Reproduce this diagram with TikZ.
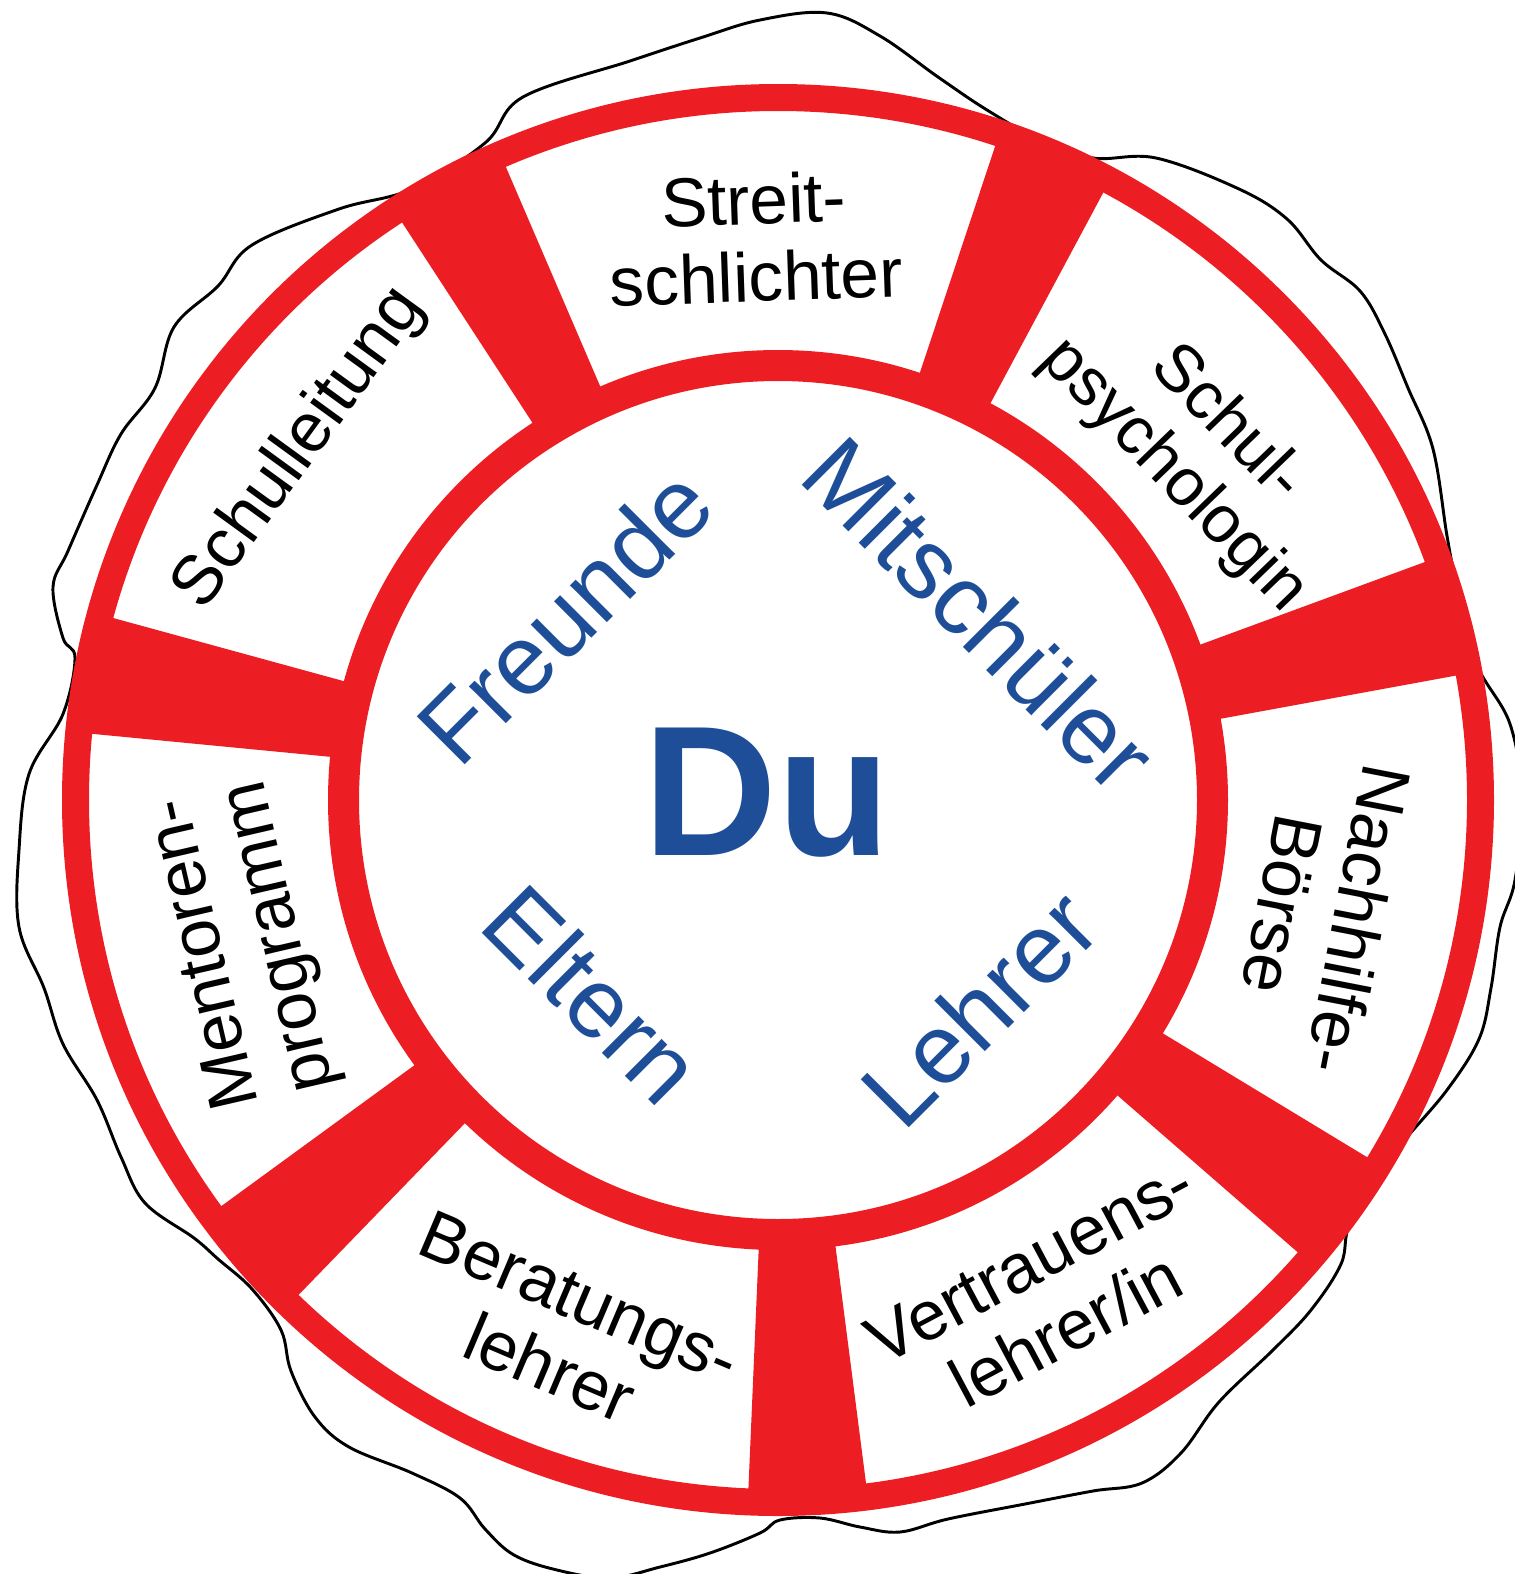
\documentclass[tikz,border=0pt]{standalone}
\usepackage{fontspec}
\setmainfont{Liberation Sans}
\definecolor{ringred}{RGB}{236,30,36}
\definecolor{dublue}{RGB}{31,78,152}

\tikzset{every picture/.style={line width=0.75pt}}

\begin{document}
\begin{tikzpicture}[x=0.75pt,y=0.75pt,yscale=-1,xscale=1,
    segtext/.style={align=center,inner sep=0pt,font=\fontsize{52}{58}\selectfont},
    bluetext/.style={text=dublue,inner sep=0pt,font=\fontsize{74}{80}\selectfont}]
\useasboundingbox (0,0) rectangle (1514,1574);

%Wavy outline
\draw [line width=2.2pt, line join=round] plot [smooth cycle, tension=0.6] coordinates {
  (700,38) (760,20) (827,13) (880,36) (938,77) (987,110) (1040,140) (1093,158)
  (1156,158) (1239,189) (1287,219) (1321,260) (1360,291) (1384,332) (1408,388)
  (1433,449) (1447,536) (1457,587) (1476,663) (1510,724) (1522,800) (1515,880)
  (1500,927) (1491,988) (1479,1039) (1447,1090) (1404,1141) (1384,1172) (1350,1223)
  (1341,1264) (1311,1310) (1273,1350) (1219,1402) (1181,1453) (1142,1483) (1093,1491)
  (1025,1504) (948,1519) (900,1532) (860,1527) (820,1518) (780,1520) (760,1533)
  (710,1553) (660,1567) (610,1578) (557,1570) (514,1555) (485,1529) (460,1498)
  (412,1473) (349,1447) (315,1417) (291,1371) (281,1330) (252,1289) (218,1259)
  (194,1238) (145,1203) (121,1157) (97,1100) (63,1044) (44,988) (19,927) (19,850)
  (29,774) (63,714) (75,658) (63,638) (53,587) (68,551) (97,485) (121,434)
  (155,388) (174,327) (218,286) (252,245) (339,209) (412,189) (485,143) (523,97)
  (630,61)};

%Spokes
\fill [ringred] (1202.90,722.02) -- (1468.47,673.27) -- (1436.82,557.60) -- (1183.43,650.83) -- cycle;
\fill [ringred] (981.94,419.17) -- (1109.41,181.15) -- (999.24,133.77) -- (914.15,390.01) -- cycle;
\fill [ringred] (607.40,403.11) -- (500.77,155.06) -- (395.04,211.65) -- (542.34,437.94) -- cycle;
\fill [ringred] (361.33,685.93) -- (100.91,614.64) -- (79.24,732.59) -- (348.00,758.52) -- cycle;
\fill [ringred] (428.99,1054.59) -- (210.86,1213.72) -- (289.56,1304.21) -- (477.42,1110.28) -- cycle;
\fill [ringred] (759.46,1231.60) -- (747.87,1501.35) -- (867.69,1496.24) -- (833.20,1228.46) -- cycle;
\fill [ringred] (1103.89,1083.59) -- (1307.57,1260.83) -- (1378.27,1163.97) -- (1147.40,1023.98) -- cycle;

%Shape: Circle (outer ring)
\draw [ringred, line width=20.25pt] (778,800) circle (702.5);
%Shape: Circle (inner ring)
\draw [ringred, line width=23.25pt] (778,800) circle (434.5);

% Text Node
\node [segtext, rotate=2] (streit) at (755,238) {Streit-\\schlichter};
% Text Node
\node [segtext, rotate=54] (schulleitung) at (300,449) {Schulleitung};
% Text Node
\node [segtext, rotate=-46, font=\fontsize{50}{56}\selectfont] (psycho) at (1200,450) {Schul-\\psychologin};
% Text Node
\node [segtext, rotate=-101] (nachhilfe) at (1321,912) {Nachhilfe-\\Börse};
% Text Node
\node [segtext, rotate=28] (vertrauen) at (1048,1296) {Vertrauens-\\lehrer/in};
% Text Node
\node [segtext, rotate=-23] (beratung) at (565,1333) {Beratungs-\\lehrer};
% Text Node
\node [segtext, rotate=103] (mentoren) at (244,945) {Mentoren-\\programm};

% Text Node
\node [bluetext, rotate=45] (freunde) at (564,616) {Freunde};
% Text Node
\node [bluetext, rotate=-45] (mitschueler) at (980,614) {Mitschüler};
% Text Node
\node [bluetext, rotate=-45] (eltern) at (593,994) {Eltern};
% Text Node
\node [bluetext, rotate=45] (lehrer) at (979,1008) {Lehrer};
% Text Node
\node [text=dublue, inner sep=0pt, font=\fontsize{139}{139}\selectfont\bfseries] (du) at (767,793) {Du};

\end{tikzpicture}
\end{document}
